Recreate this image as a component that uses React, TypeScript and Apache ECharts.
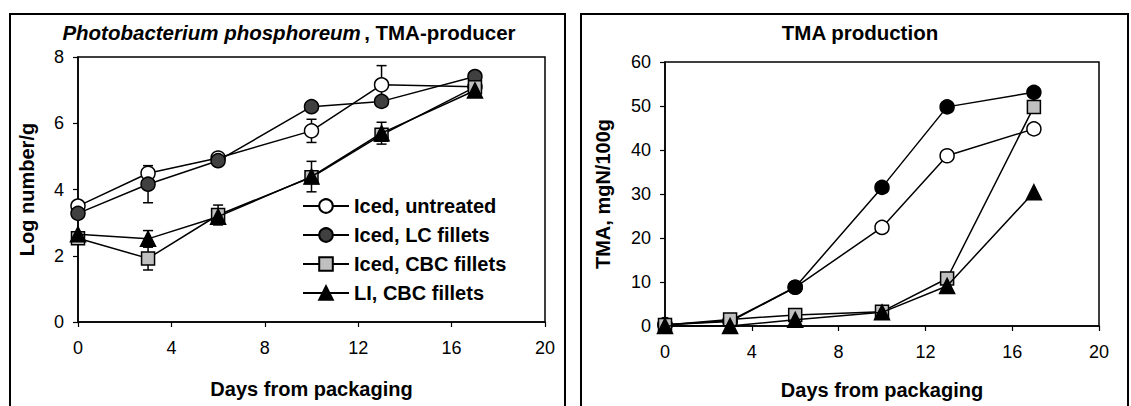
import React, { useEffect, useRef } from "react";
import * as echarts from "echarts";

const days = [0, 3, 6, 10, 13, 17];
const xTicks = [0, 4, 8, 12, 16, 20];

const seriesNames = ["Iced, untreated", "Iced, LC fillets", "Iced, CBC fillets", "LI, CBC fillets"];

// Left panel: Photobacterium phosphoreum, log number/g
const logUntreated = [3.5, 4.49, 4.95, 5.77, 7.16, 7.1];
const logLC = [3.28, 4.16, 4.87, 6.5, 6.66, 7.41];
const logCBC = [2.53, 1.92, 3.23, 4.37, 5.65, 7.09];
const logLI = [2.65, 2.51, 3.18, 4.39, 5.7, 6.99];

// error (SD) for left panel
const errUntreated = [0, 0, 0, 0.35, 0.58, 0];
const errLC = [0, 0.56, 0, 0, 0, 0];
const errCBC = [0, 0.35, 0.3, 0, 0, 0];
const errLI = [0, 0.25, 0, 0.46, 0.33, 0];

// Right panel: TMA production, mgN/100g
const tmaUntreated = [0.3, 1.0, 8.8, 22.4, 38.7, 44.8];
const tmaLC = [0.3, 1.2, 8.8, 31.5, 49.8, 53.1];
const tmaCBC = [0.2, 1.5, 2.5, 3.25, 10.8, 49.8];
const tmaLI = [0, 0, 1.4, 3.1, 9.1, 30.4];

const FONT = "'Liberation Sans', Arial, Helvetica, sans-serif";

export default function App() {
  const ref = useRef<HTMLDivElement>(null);

  useEffect(() => {
    document.body.style.margin = "0";
    if (!ref.current) return;
    const chart = echarts.init(ref.current, null, { renderer: "svg" });

    const pair = (vals: number[]) => days.map((d, i) => [d, vals[i]]);
    const errData: number[][] = [];
    const addErr = (vals: number[], errs: number[]) => {
      days.forEach((d, i) => {
        if (errs[i] > 0) errData.push([d, vals[i] - errs[i], vals[i] + errs[i]]);
      });
    };
    addErr(logUntreated, errUntreated);
    addErr(logLC, errLC);
    addErr(logCBC, errCBC);
    addErr(logLI, errLI);

    const axisLabel = { color: "#000", fontSize: 18, fontFamily: FONT };
    const nameStyle = { color: "#000", fontSize: 20, fontWeight: "bold", fontFamily: FONT };
    const axisLine = { show: true, lineStyle: { color: "#000", width: 1.5 } };
    const axisTick = { show: true, length: 5, lineStyle: { color: "#000", width: 1.2 } };

    const xAxisBase = (gridIndex: number, gap: number) => ({
      type: "value",
      gridIndex,
      min: 0,
      max: 20,
      interval: 4,
      name: "Days from packaging",
      nameLocation: "middle",
      nameGap: gap,
      nameTextStyle: nameStyle,
      axisLine,
      axisTick,
      axisLabel: { ...axisLabel, margin: 17, formatter: (v: number) => (xTicks.includes(v) ? String(v) : "") },
      splitLine: { show: false },
    });

    const styles = [
      { symbol: "circle", size: 14, fillL: "#ffffff", fillR: "#ffffff" },
      { symbol: "circle", size: 14, fillL: "#404040", fillR: "#000000" },
      { symbol: "rect", size: 13, fillL: "#c0c0c0", fillR: "#c0c0c0" },
      { symbol: "triangle", size: 15, fillL: "#000000", fillR: "#000000" },
    ];
    const leftVals = [logUntreated, logLC, logCBC, logLI];
    const rightVals = [tmaUntreated, tmaLC, tmaCBC, tmaLI];

    const mkSeries = (idx: number, vals: number[], right: boolean) => ({
      type: "line",
      name: seriesNames[idx],
      xAxisIndex: right ? 1 : 0,
      yAxisIndex: right ? 1 : 0,
      data: pair(vals),
      symbol: styles[idx].symbol,
      symbolSize: styles[idx].size,
      showAllSymbol: true,
      z: 3 + idx,
      lineStyle: { color: "#000", width: 1.5 },
      itemStyle: {
        color: right ? styles[idx].fillR : styles[idx].fillL,
        borderColor: "#000",
        borderWidth: 1.5,
      },
      emphasis: { disabled: true },
    });

    chart.setOption({
      animation: false,
      backgroundColor: "#ffffff",
      graphic: [
        { type: "rect", shape: { x: 10, y: 14, width: 555, height: 420 }, style: { fill: "none", stroke: "#000", lineWidth: 2 }, silent: true },
        { type: "rect", shape: { x: 581, y: 14, width: 547, height: 420 }, style: { fill: "none", stroke: "#000", lineWidth: 2 }, silent: true },
        {
          type: "text",
          x: 289,
          y: 32,
          style: {
            text: "{i|Photobacterium phosphoreum} {b|, TMA-producer}",
            align: "center",
            verticalAlign: "middle",
            rich: {
              i: { fontSize: 20.5, fontWeight: "bold", fontStyle: "italic", fontFamily: FONT, fill: "#000" },
              b: { fontSize: 20.5, fontWeight: "bold", fontFamily: FONT, fill: "#000" },
            },
          },
          silent: true,
        },
        {
          type: "text",
          x: 860,
          y: 32,
          style: { text: "TMA production", align: "center", verticalAlign: "middle", fontSize: 20.5, fontWeight: "bold", fontFamily: FONT, fill: "#000" },
          silent: true,
        },
      ],
      legend: {
        data: seriesNames,
        orient: "vertical",
        left: 297,
        top: 191,
        itemWidth: 46,
        itemHeight: 17,
        itemGap: 9,
        selectedMode: false,
        textStyle: { color: "#000", fontSize: 20, fontWeight: "bold", fontFamily: FONT },
      },
      grid: [
        { left: 78, top: 57, width: 467, height: 265, show: true, borderColor: "#000", borderWidth: 1.5, backgroundColor: "transparent" },
        { left: 665, top: 62, width: 434, height: 264, show: true, borderColor: "#000", borderWidth: 1.5, backgroundColor: "transparent" },
      ],
      xAxis: [xAxisBase(0, 57), xAxisBase(1, 54)],
      yAxis: [
        {
          type: "value",
          gridIndex: 0,
          min: 0,
          max: 8,
          interval: 2,
          name: "Log number/g",
          nameLocation: "middle",
          nameGap: 41,
          nameTextStyle: nameStyle,
          axisLine,
          axisTick,
          axisLabel: { ...axisLabel, margin: 14 },
          splitLine: { show: false },
        },
        {
          type: "value",
          gridIndex: 1,
          min: 0,
          max: 60,
          interval: 10,
          name: "TMA, mgN/100g",
          nameLocation: "middle",
          nameGap: 52,
          nameTextStyle: nameStyle,
          axisLine,
          axisTick,
          axisLabel: { ...axisLabel, margin: 14 },
          splitLine: { show: false },
        },
      ],
      series: [
        {
          type: "custom",
          xAxisIndex: 0,
          yAxisIndex: 0,
          z: 2,
          silent: true,
          data: errData,
          encode: { x: 0, y: [1, 2] },
          renderItem: (params: any, api: any) => {
            const x = api.value(0);
            const lo = api.coord([x, api.value(1)]);
            const hi = api.coord([x, api.value(2)]);
            const w = 5;
            const st = { stroke: "#000", lineWidth: 1.5 };
            return {
              type: "group",
              children: [
                { type: "line", shape: { x1: lo[0], y1: lo[1], x2: hi[0], y2: hi[1] }, style: st },
                { type: "line", shape: { x1: lo[0] - w, y1: lo[1], x2: lo[0] + w, y2: lo[1] }, style: st },
                { type: "line", shape: { x1: hi[0] - w, y1: hi[1], x2: hi[0] + w, y2: hi[1] }, style: st },
              ],
            };
          },
        },
        ...leftVals.map((v, i) => mkSeries(i, v, false)),
        ...rightVals.map((v, i) => mkSeries(i, v, true)),
      ],
    });

    return () => chart.dispose();
  }, []);

  return <div ref={ref} style={{ width: 1131, height: 406 }} />;
}
